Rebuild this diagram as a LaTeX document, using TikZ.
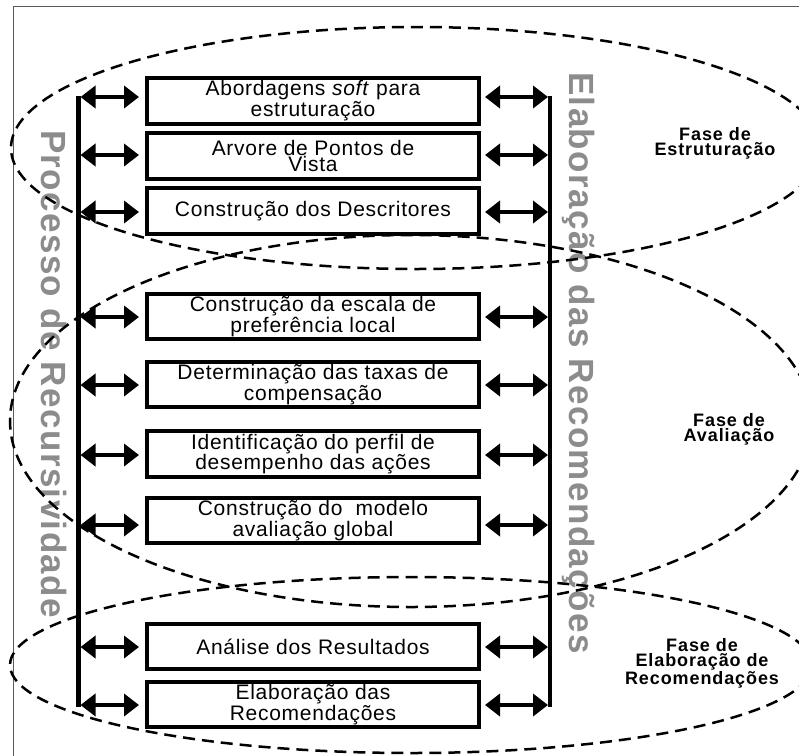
\documentclass[tikz,border=0pt]{standalone}
\usepackage{fontspec}
\setmainfont{Liberation Sans}
\newfontfamily\boxfont{Liberation Sans}[LetterSpace=3.5]
\newfontfamily\lblfont{Liberation Sans}[LetterSpace=5]
\newfontfamily\vertfont{Liberation Sans}[LetterSpace=4]
\usetikzlibrary{arrows.meta}
\definecolor{vgray}{RGB}{140,140,140}
\definecolor{framegray}{RGB}{90,90,90}
\begin{document}
\begin{tikzpicture}[x=1pt,y=-1pt,
  stepbox/.style={draw, line width=4pt, fill=white, minimum width=332pt, minimum height=45.5pt,
    inner sep=0pt, align=center, font=\boxfont\fontsize{21}{16}\selectfont},
  dbl/.style={line width=4pt, {Triangle[length=15pt,width=22pt]}-{Triangle[length=15pt,width=22pt]}},
  bar/.style={line width=4.5pt},
  phase/.style={dash pattern=on 12pt off 7pt, line width=2.5pt},
  phaselbl/.style={align=center, inner sep=0pt, font=\lblfont\bfseries\fontsize{18}{15}\selectfont},
  vert/.style={rotate=-90, anchor=base, text=vgray, inner sep=0pt, font=\vertfont\bfseries\fontsize{35}{35}\selectfont}
]
\useasboundingbox (0,0) rectangle (799,755);
\draw[framegray, line width=1pt] (13,770) -- (13,6.5) -- (815,6.5);

% vertical texts
\node[vert] (vl) at (41,374) {Processo de Recursividade};
\node[vert] (vr) at (569,363) {Elaboração das Recomendações};

% phase ellipses
\draw[phase] (416,148) ellipse [x radius=405pt, y radius=121pt];
\draw[phase] (411,421) ellipse [x radius=401pt, y radius=186pt];
\draw[phase] (411,665) ellipse [x radius=401pt, y radius=88pt];

% bars
\coordinate (LT) at (78.5,96);
\coordinate (LB) at (78.5,707);
\coordinate (RT) at (550,96);
\coordinate (RB) at (550,707);
\draw[bar] (LT) -- (LB);
\draw[bar] (RT) -- (RB);

% boxes
\node[stepbox] (b1) at (313,100.75) {Abordagens \textit{soft} para\\estruturação};
\node[stepbox] (b2) at (313,155.75) {Arvore de Pontos de\\Vista};
\node[stepbox] (b3) at (313,210.75) {Construção dos Descritores};
\node[stepbox] (b4) at (313,316.5) {Construção da escala de\\preferência local};
\node[stepbox] (b5) at (313,384.5) {Determinação das taxas de\\compensação};
\node[stepbox] (b6) at (313,454) {Identificação do perfil de\\desempenho das ações};
\node[stepbox] (b7) at (313,520.5) {Construção do~ modelo\\avaliação global};
\node[stepbox] (b8) at (313,646.5) {Análise dos Resultados};
\node[stepbox] (b9) at (313,704.5) {Elaboração das\\Recomendações};

% arrows
\foreach \i/\y in {1/97,2/155,3/212,4/317,5/385,6/455,7/525,8/647,9/705}{
  \coordinate (l\i) at (80.5,\y);
  \coordinate (r\i) at (548,\y);
  \draw[dbl, shorten >=6pt] (l\i) -- (b\i.west |- l\i);
  \draw[dbl, shorten <=4pt] (b\i.east |- r\i) -- (r\i);
}

% phase labels
\node[phaselbl] (f1) at (715,143) {Fase de\\Estruturação};
\node[phaselbl] (f2) at (729,429) {Fase de\\Avaliação};
\node[phaselbl] (f3) at (702,663) {Fase de\\Elaboração de\\Recomendações};
\end{tikzpicture}
\end{document}
